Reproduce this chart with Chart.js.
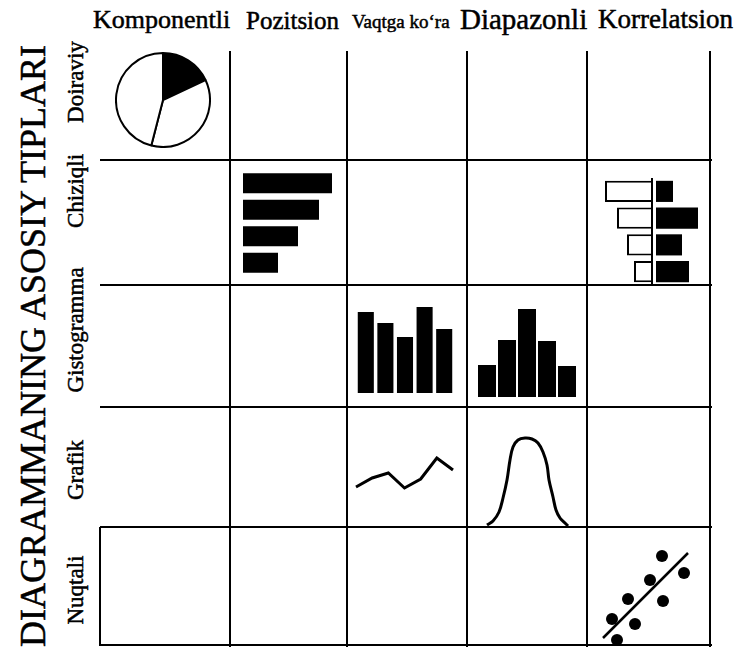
<!DOCTYPE html>
<html>
<head>
<meta charset="utf-8">
<title>Diagrammaning asosiy tiplari</title>
<script src="https://cdn.jsdelivr.net/npm/chart.js@4.4.0/dist/chart.umd.min.js"></script>
<style>
    body { margin: 0; background: #fff; }
    #page { position: relative; width: 738px; height: 657px; overflow: hidden; font-family: "Liberation Serif", "Times New Roman", serif; color: #000; }
    .rule { position: absolute; background: #000; }
    .head { position: absolute; white-space: nowrap; line-height: 1; -webkit-text-stroke: 0.5px #000; }
    .side { position: absolute; white-space: nowrap; line-height: 1; -webkit-text-stroke: 0.5px #000; transform: translate(-50%, -50%) rotate(-90deg); }
    canvas { position: absolute; }
</style>
</head>
<body>
<div id="page"></div>
<script>
// headings
var title = 'DIAGRAMMANING ASOSIY TIPLARI';
var columns = ['Komponentli', 'Pozitsion', 'Vaqtga ko‘ra', 'Diapazonli', 'Korrelatsion'];
var rows = ['Doiraviy', 'Chiziqli', 'Gistogramma', 'Grafik', 'Nuqtali'];

// Komponentli / Doiraviy: pie shares (%)
var pieShares = [18, 36, 46];

// Pozitsion / Chiziqli: horizontal bars
var positionLabels = ['A', 'B', 'C', 'D'];
var positionValues = [89, 76, 55, 35];

// Korrelatsion / Chiziqli: paired bars either side of the axis
var pairLabels = ['A', 'B', 'C', 'D'];
var pairLeft = [47, 35, 25, 18];
var pairRight = [17, 42, 26, 33];

// Vaqtga ko'ra / Gistogramma
var timeLabels = ['1', '2', '3', '4', '5'];
var timeValues = [81, 70, 56, 86, 64];

// Diapazonli / Gistogramma
var rangeLabels = ['1', '2', '3', '4', '5'];
var rangeValues = [32, 57, 88, 56, 31];

// Vaqtga ko'ra / Grafik
var lineLabels = ['1', '2', '3', '4', '5', '6', '7'];
var lineValues = [13, 22, 27, 12, 21, 42, 30];

// Diapazonli / Grafik: bell shaped curve
var bellX = [1, 7, 13, 17, 21, 24, 27, 32, 39, 46, 52, 57, 61, 63, 67, 70, 74, 79, 82];
var bellY = [5, 9, 18, 32, 50, 70, 83, 90, 92, 91, 87, 78, 65, 50, 33, 20, 12, 7, 4];

// Korrelatsion / Nuqtali: scatter with trend line
var dotX = [62, 84, 50, 28, 63, 12, 35, 17];
var dotY = [94, 77, 70, 51, 49, 31, 26, 10];
var trendX = [3, 88];
var trendY = [12, 97];

// layout of the table
var colEdges = [100, 230, 347, 467, 587, 710];
var rowEdges = [55, 160, 285, 407, 527, 645];
var headLeft = [93, 246, 352, 460, 598];
var headSize = [26, 25, 19, 29, 27];
var headTop = [7, 8, 12, 5, 6];
var sideCenter = [82, 191, 330, 470, 590];

var page = document.getElementById('page');

function addRule(left, top, w, h) {
    var d = document.createElement('div');
    d.className = 'rule';
    d.style.left = left + 'px';
    d.style.top = top + 'px';
    d.style.width = w + 'px';
    d.style.height = h + 'px';
    page.appendChild(d);
}

for (var i = 1; i < colEdges.length; i++) {
    addRule(colEdges[i] - 1, rowEdges[0] - 4, 2, rowEdges[5] - rowEdges[0] + 6);
}
for (var j = 1; j < rowEdges.length; j++) {
    addRule(colEdges[0], rowEdges[j] - 1, colEdges[5] - colEdges[0] + 2, 2);
}
addRule(colEdges[0] - 1, rowEdges[4], 2, rowEdges[5] - rowEdges[4] + 1);

for (var i = 0; i < columns.length; i++) {
    var h = document.createElement('div');
    h.className = 'head';
    h.textContent = columns[i];
    h.style.left = headLeft[i] + 'px';
    h.style.top = headTop[i] + 'px';
    h.style.fontSize = headSize[i] + 'px';
    page.appendChild(h);
}

var t = document.createElement('div');
t.className = 'side';
t.textContent = title;
t.style.left = '33px';
t.style.top = '346px';
t.style.fontSize = '36px';
page.appendChild(t);

for (var i = 0; i < rows.length; i++) {
    var s = document.createElement('div');
    s.className = 'side';
    s.textContent = rows[i];
    s.style.left = '75px';
    s.style.top = sideCenter[i] + 'px';
    s.style.fontSize = '23px';
    page.appendChild(s);
}

function makeCanvas(left, top, w, h) {
    var c = document.createElement('canvas');
    c.width = w;
    c.height = h;
    c.style.left = left + 'px';
    c.style.top = top + 'px';
    c.style.width = w + 'px';
    c.style.height = h + 'px';
    page.appendChild(c);
    return c.getContext('2d');
}

var quiet = { legend: { display: false }, tooltip: { enabled: false } };

// pie
new Chart(makeCanvas(115, 52, 96, 96), {
    type: 'pie',
    data: {
        labels: ['a', 'b', 'c'],
        datasets: [{
            data: pieShares,
            backgroundColor: ['#000', '#fff', '#fff'],
            borderColor: '#000',
            borderWidth: 2
        }]
    },
    options: { responsive: false, animation: false, plugins: quiet, layout: { padding: 0 } }
});

// horizontal bars
new Chart(makeCanvas(243, 170, 95, 106), {
    type: 'bar',
    data: {
        labels: positionLabels,
        datasets: [{ data: positionValues, backgroundColor: '#000', barPercentage: 0.76, categoryPercentage: 1 }]
    },
    options: {
        indexAxis: 'y', responsive: false, animation: false, plugins: quiet,
        scales: { x: { display: false, min: 0, max: 95 }, y: { display: false } }
    }
});

// paired bars
var barGap = 4;
new Chart(makeCanvas(600, 178, 102, 107), {
    type: 'bar',
    data: {
        labels: pairLabels,
        datasets: [
            {
                data: pairLeft.map(function (v) { return -v; }),
                backgroundColor: '#fff', borderColor: '#000', borderWidth: 2,
                barPercentage: 0.79, categoryPercentage: 1, grouped: false
            },
            {
                data: pairRight.map(function (v) { return [barGap, barGap + v]; }),
                backgroundColor: '#000',
                barPercentage: 0.79, categoryPercentage: 1, grouped: false
            }
        ]
    },
    options: {
        indexAxis: 'y', responsive: false, animation: false, plugins: quiet,
        layout: { padding: 0 },
        scales: {
            x: {
                min: -52, max: 50, z: 1,
                afterBuildTicks: function (scale) { scale.ticks = [{ value: 0 }]; },
                ticks: { display: false },
                border: { display: false },
                grid: { color: '#000', lineWidth: 2, drawTicks: false }
            },
            y: { display: false }
        }
    }
});

// histograms
function columnChart(ctx, labels, values, maxY, pct) {
    return new Chart(ctx, {
        type: 'bar',
        data: {
            labels: labels,
            datasets: [{ data: values, backgroundColor: '#000', barPercentage: pct, categoryPercentage: 1 }]
        },
        options: {
            responsive: false, animation: false, plugins: quiet,
            scales: { x: { display: false }, y: { display: false, min: 0, max: maxY } }
        }
    });
}
columnChart(makeCanvas(356, 300, 98, 93), timeLabels, timeValues, 93, 0.82);
columnChart(makeCanvas(477, 305, 100, 92), rangeLabels, rangeValues, 92, 0.9);

// time line
new Chart(makeCanvas(350, 452, 110, 42), {
    type: 'line',
    data: {
        labels: lineLabels,
        datasets: [{ data: lineValues, borderColor: '#000', borderWidth: 3, pointRadius: 0, tension: 0 }]
    },
    options: {
        responsive: false, animation: false, plugins: quiet,
        layout: { padding: { left: 6, right: 7, top: 4, bottom: 4 } },
        scales: { x: { display: false }, y: { display: false, min: 10, max: 44 } }
    }
});

// bell curve
var bellPoints = [];
for (var i = 0; i < bellX.length; i++) {
    bellPoints.push({ x: bellX[i], y: bellY[i] });
}
new Chart(makeCanvas(482, 432, 92, 102), {
    type: 'line',
    data: {
        datasets: [{ data: bellPoints, borderColor: '#000', borderWidth: 3, pointRadius: 0, tension: 0.35 }]
    },
    options: {
        responsive: false, animation: false, plugins: quiet,
        layout: { padding: 4 },
        scales: { x: { type: 'linear', display: false, min: 0, max: 84 }, y: { display: false, min: 0, max: 94 } }
    }
});

// scatter with trend line
var dots = [];
for (var i = 0; i < dotX.length; i++) {
    dots.push({ x: dotX[i], y: dotY[i] });
}
var trend = [];
for (var i = 0; i < trendX.length; i++) {
    trend.push({ x: trendX[i], y: trendY[i] });
}
new Chart(makeCanvas(592, 542, 108, 116), {
    type: 'scatter',
    data: {
        datasets: [
            { data: dots, backgroundColor: '#000', borderWidth: 0, pointRadius: 6 },
            { type: 'line', data: trend, borderColor: '#000', borderWidth: 2.5, pointRadius: 0 }
        ]
    },
    options: {
        responsive: false, animation: false, plugins: quiet,
        layout: { padding: 8 },
        scales: { x: { display: false, min: 0, max: 92 }, y: { display: false, min: 0, max: 100 } }
    }
});
</script>
</body>
</html>
